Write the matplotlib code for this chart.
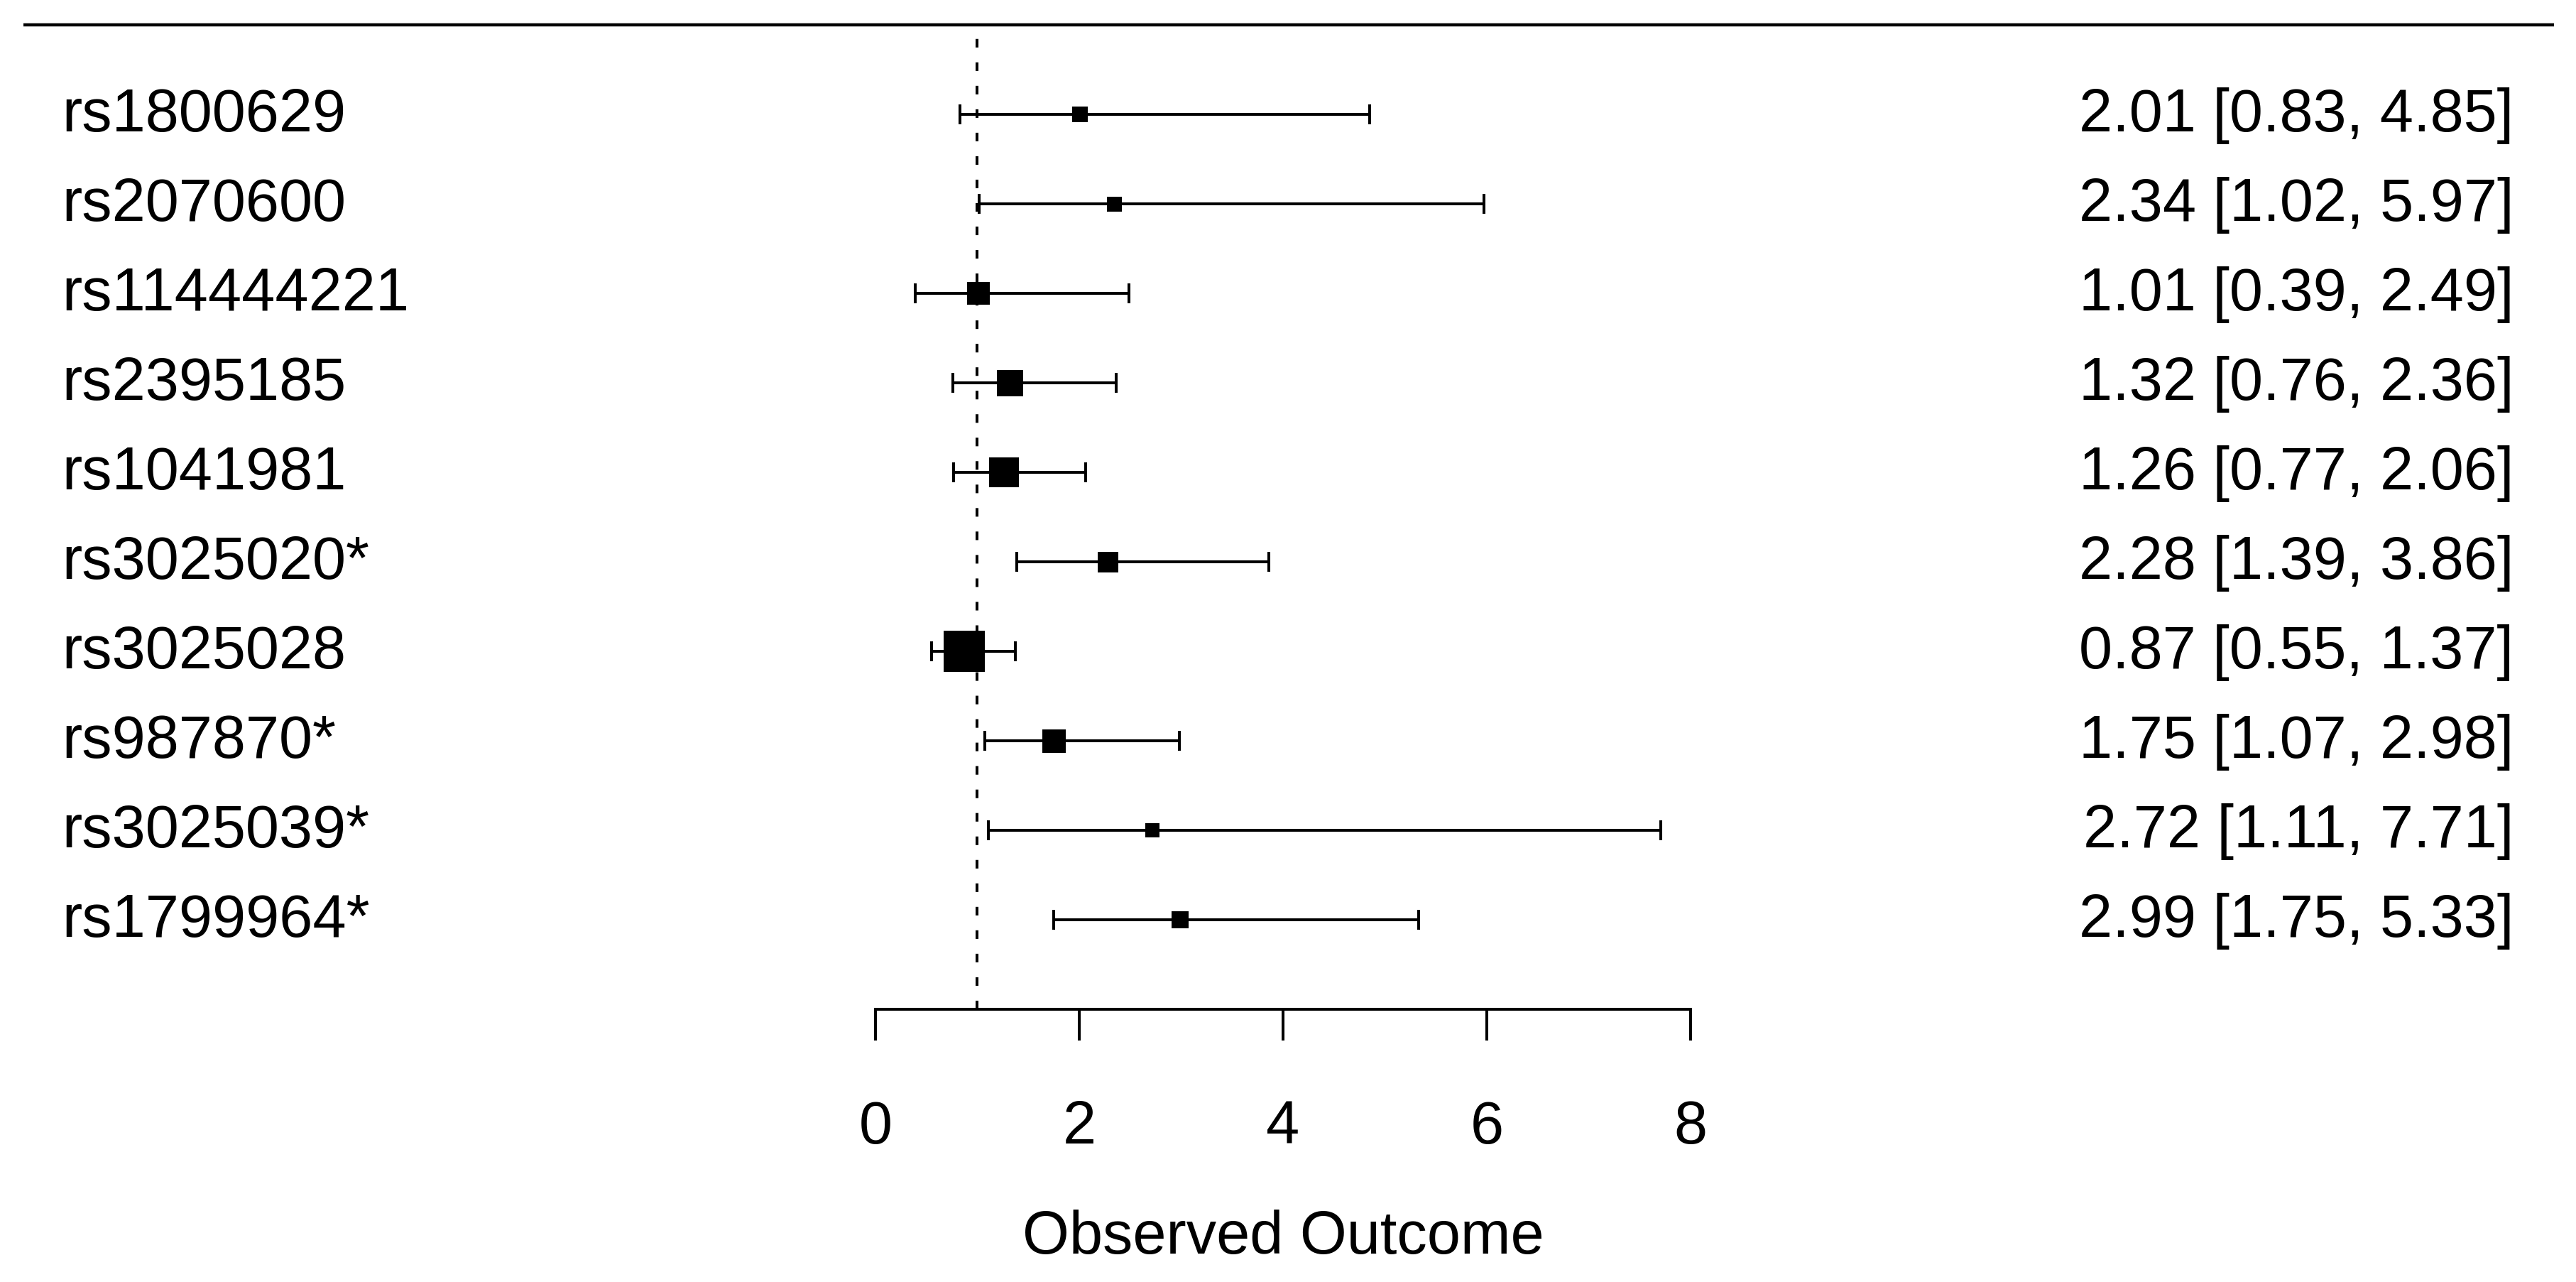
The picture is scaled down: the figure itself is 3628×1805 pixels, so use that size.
import matplotlib
matplotlib.use("Agg")
import matplotlib.pyplot as plt

# ---- data ----
snps = ["rs1800629", "rs2070600", "rs114444221", "rs2395185", "rs1041981",
        "rs3025020*", "rs3025028", "rs987870*", "rs3025039*", "rs1799964*"]
estimate = [2.01, 2.34, 1.01, 1.32, 1.26, 2.28, 0.87, 1.75, 2.72, 2.99]
ci_lower = [0.83, 1.02, 0.39, 0.76, 0.77, 1.39, 0.55, 1.07, 1.11, 1.75]
ci_upper = [4.85, 5.97, 2.49, 2.36, 2.06, 3.86, 1.37, 2.98, 7.71, 5.33]
weights = [22, 21, 32, 37, 42, 29, 58, 33, 20, 24]   # relative square sizes
xticks = [0, 2, 4, 6, 8]
refline = 1
xlabel = "Observed Outcome"

# ---- figure ----
W, H, DPI = 3628, 1806, 100
fig = plt.figure(figsize=(W / DPI, H / DPI), dpi=DPI)
ax = fig.add_axes([0, 0, 1, 1])

px_per_unit = 143.5
x0_px = 1233
row_px = 126
top_row_px = 162
k = len(snps)

ax.set_xlim(-x0_px / px_per_unit, (W - x0_px) / px_per_unit)
ax.set_ylim(k - (H - top_row_px) / row_px, k + top_row_px / row_px)

FONT = "Liberation Sans"
FS = 61
LW = 2.9

ys = [k - i for i in range(k)]

# error bars
for y, est, lo, hi, w in zip(ys, estimate, ci_lower, ci_upper, weights):
    ax.errorbar([est], [y], xerr=[[est - lo], [hi - est]], fmt="none",
                ecolor="black", elinewidth=LW, capsize=10, capthick=LW, zorder=3)
    ax.plot([est], [y], marker="s", color="black", markersize=w * 0.72,
            markeredgewidth=0, linestyle="none", zorder=4)

# reference line
ax.plot([refline, refline], [0, k + 0.87], color="black", lw=LW,
        dashes=(3.0, 5.2), zorder=1)

# top line
ax.plot([(33 - x0_px) / px_per_unit, (3597 - x0_px) / px_per_unit], [k + 1, k + 1],
        color="black", lw=3.2, solid_capstyle="butt")

# labels
x_left = (87 - x0_px) / px_per_unit
x_right = (3540 - x0_px) / px_per_unit
for y, name, est, lo, hi in zip(ys, snps, estimate, ci_lower, ci_upper):
    ax.text(x_left, y - 0.18, name, ha="left", va="baseline",
            fontsize=FS, family=FONT)
    ax.text(x_right, y - 0.18, f"{est:.2f} [{lo:.2f}, {hi:.2f}]", ha="right",
            va="baseline", fontsize=FS, family=FONT)

# x axis
for s in ["top", "right", "left"]:
    ax.spines[s].set_visible(False)
ax.spines["bottom"].set_position(("data", 0))
ax.spines["bottom"].set_bounds(xticks[0], xticks[-1])
ax.spines["bottom"].set_linewidth(LW)
ax.set_yticks([])
ax.set_xticks(xticks)
ax.set_xticklabels([])
ax.tick_params(axis="x", direction="out", length=31.7, width=LW)
for t in xticks:
    ax.text(t, -1.49, str(t), ha="center", va="baseline", fontsize=FS, family=FONT)

ax.text((xticks[0] + xticks[-1]) / 2, -2.72, xlabel, ha="center", va="baseline",
        fontsize=FS, family=FONT)

fig.savefig("out.png", dpi=DPI, facecolor="white")
